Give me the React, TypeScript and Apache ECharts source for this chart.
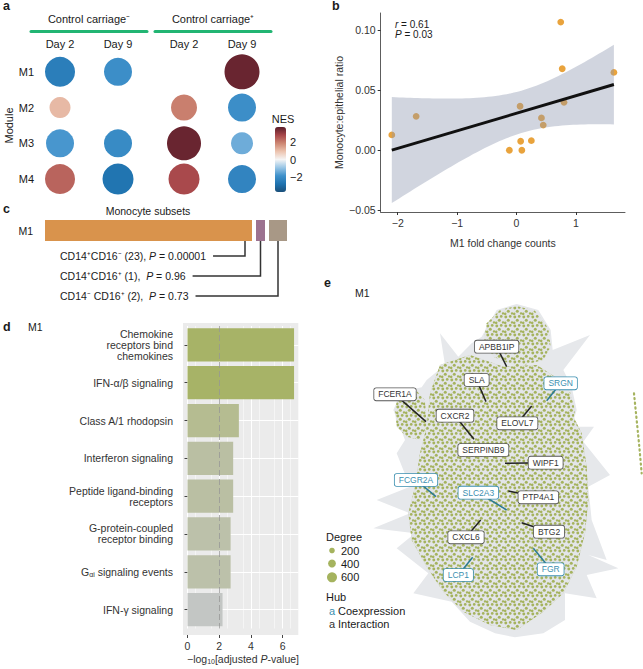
import React, { useEffect, useRef } from 'react';
import * as echarts from 'echarts';

const FONT = "'Liberation Sans', Arial, Helvetica, sans-serif";
const TXT = '#1a1a1a';

// ---------- Panel a : NES dot plot ----------
const aDays = ['Day 2', 'Day 9'];
const aModules = ['M1', 'M2', 'M3', 'M4'];
const aGroups = ['Control carriage\u207B', 'Control carriage\u207A'];
const negDay2NES = [-2.5, 1.1, -1.8, 2.4];
const negDay9NES = [-2.0, null, -2.1, -2.8];
const posDay2NES = [null, 2.0, 3.6, 2.8];
const posDay9NES = [3.6, -2.0, -1.4, -2.3];
const negDay2Sig = [3.0, 2.1, 2.8, 3.0];
const negDay9Sig = [2.8, null, 2.8, 3.1];
const posDay2Sig = [null, 2.6, 3.4, 3.1];
const posDay9Sig = [3.5, 2.8, 2.2, 2.8];
const nesTicks = [-2, 0, 2];
const nesRange = [-3.8, 3.8];
const nesColors = ['#1a4f7a', '#1f73b0', '#3f91cb', '#98c5e5', '#f5f5f5', '#ecc3ae', '#cd8672', '#a7464a', '#591c29'];

// ---------- Panel b : correlation ----------
const m1FoldChange = [-2.10, -1.69, -0.12, 0.06, 0.07, 0.09, 0.25, 0.42, 0.45, 0.745, 0.77, 0.80, 1.64];
const monoEpiRatio = [0.0128, 0.0283, 0.0, 0.0367, 0.0075, 0.0, 0.008, 0.027, 0.021, 0.107, 0.068, 0.040, 0.065];
const bXTicks = [-2, -1, 0, 1];
const bYTicks = [-0.05, 0, 0.05, 0.1];
const corrR = '0.61';
const corrP = '0.03';
const tCrit95df11 = 2.201;

// ---------- Panel c : monocyte subsets ----------
const subsetNames = ['CD14\u207ACD16\u207B', 'CD14\u207ACD16\u207A', 'CD14\u207B CD16\u207A'];
const subsetCounts = [23, 1, 2];
const subsetP = ['0.00001', '0.96', '0.73'];
const subsetSep = [' ', '  ', '  '];
const subsetColors = ['#d9934c', '#9c7290', '#a89886'];

// ---------- Panel d : pathway enrichment ----------
const pathways = [
  'Chemokine\nreceptors bind\nchemokines',
  'IFN-\u03B1/\u03B2 signaling',
  'Class A/1 rhodopsin',
  'Interferon signaling',
  'Peptide ligand-binding\nreceptors',
  'G-protein-coupled\nreceptor binding',
  'G\u03B1i signaling events',
  'IFN-\u03B3 signaling',
];
const negLog10AdjP = [6.72, 6.72, 3.24, 2.88, 2.88, 2.72, 2.72, 2.21];
const dXTicks = [0, 2, 4, 6];
const dRowIdx = [0, 1, 2, 3, 4, 5, 6, 7];
const pThreshold = 2;
const barColors = ['#c3c6c4', '#b4bb8c', '#afb87d', '#abb672', '#a7b367'];

// ---------- Panel e : network (layout coordinates) ----------
const hubNames = ['APBB1IP', 'SLA', 'SRGN', 'FCER1A', 'CXCR2', 'ELOVL7', 'SERPINB9', 'WIPF1', 'FCGR2A', 'SLC2A3', 'PTP4A1', 'CXCL6', 'BTG2', 'LCP1', 'FGR'];
const hubKind = ['int', 'int', 'co', 'int', 'int', 'int', 'int', 'int', 'co', 'co', 'int', 'int', 'int', 'co', 'co'];
const hubNodeX = [530, 468, 650, 288, 432, 605, 460, 525, 318, 530, 535, 452, 575, 428, 610];
const hubNodeY = [200, 305, 302, 365, 418, 318, 450, 490, 590, 630, 573, 660, 668, 772, 745];
const hubLabelX = [500, 440, 692, 195, 375, 562, 460, 647, 258, 445, 625, 408, 657, 385, 662];
const hubLabelY = [140, 240, 250, 283, 347, 370, 450, 488, 540, 578, 592, 712, 695, 825, 808];
const netHull = [[455, 110], [500, 30], [560, 12], [625, 30], [662, 90], [668, 150], [780, 105], [700, 210], [725, 260], [740, 330], [725, 380], [792, 380], [760, 425], [840, 525], [775, 560], [785, 660], [830, 780], [775, 765], [865, 805], [770, 825], [800, 895], [705, 880], [705, 960], [640, 1000], [555, 1012], [495, 1000], [420, 965], [365, 905], [250, 880], [295, 820], [200, 745], [255, 700], [130, 685], [240, 640], [140, 600], [240, 560], [200, 460], [225, 420], [190, 330], [215, 275], [275, 262], [290, 240], [345, 195], [330, 100], [385, 170], [425, 130]];
const netCore = [[330, 195], [420, 165], [520, 200], [620, 195], [690, 240], [715, 320], [755, 400], [770, 500], [775, 600], [765, 700], [740, 800], [700, 880], [640, 935], [560, 990], [480, 975], [400, 935], [340, 875], [290, 800], [245, 720], [235, 640], [255, 560], [270, 460], [290, 380], [300, 280]];
const netDome = [[460, 130], [470, 70], [510, 30], [560, 18], [615, 32], [655, 85], [662, 140], [640, 180], [560, 200], [490, 170]];
const netLobeL = [[195, 330], [205, 280], [250, 262], [285, 300], [290, 380], [270, 420], [230, 410], [200, 380]];
const netLobeR = [[660, 280], [690, 255], [720, 275], [735, 330], [725, 390], [695, 400], [665, 360]];
const netChain = [[912, 280], [920, 360], [928, 440], [935, 520]];
const degreeLevels = [200, 400, 600];

const GREEN_LINE = '#22b573';
const NODE_GREEN = '#a5b35e';
const CO_BLUE = '#3b8fb0';

const minus = (s: string) => s.replace('-', '\u2212');

function regressionBand() {
  const n = m1FoldChange.length;
  const xb = m1FoldChange.reduce((a, b) => a + b, 0) / n;
  const yb = monoEpiRatio.reduce((a, b) => a + b, 0) / n;
  let sxx = 0, sxy = 0;
  for (let i = 0; i < n; i++) {
    sxx += (m1FoldChange[i] - xb) ** 2;
    sxy += (m1FoldChange[i] - xb) * (monoEpiRatio[i] - yb);
  }
  const slope = sxy / sxx;
  const icpt = yb - slope * xb;
  let sse = 0;
  for (let i = 0; i < n; i++) sse += (monoEpiRatio[i] - icpt - slope * m1FoldChange[i]) ** 2;
  const s = Math.sqrt(sse / (n - 2));
  const xmin = Math.min(...m1FoldChange), xmax = Math.max(...m1FoldChange);
  const upper: number[][] = [], lower: number[][] = [];
  const steps = 60;
  for (let k = 0; k <= steps; k++) {
    const x = xmin + ((xmax - xmin) * k) / steps;
    const se = s * Math.sqrt(1 / n + (x - xb) ** 2 / sxx);
    const yh = icpt + slope * x;
    upper.push([x, yh + tCrit95df11 * se]);
    lower.push([x, yh - tCrit95df11 * se]);
  }
  return { upper, lower, fit: [[xmin, icpt + slope * xmin], [xmax, icpt + slope * xmax]] };
}

function dotData(d2: (number | null)[], d9: (number | null)[], s2: (number | null)[], s9: (number | null)[]) {
  const out: number[][] = [];
  [d2, d9].forEach((arr, d) =>
    arr.forEach((v, r) => {
      if (v != null) out.push([d, r, v, (d === 0 ? s2 : s9)[r] as number]);
    })
  );
  return out;
}

function txt(x: number, y: number, text: string, o: any = {}) {
  return {
    type: 'text',
    x,
    y,
    z: 10,
    style: {
      text,
      fontSize: o.size || 10.5,
      fontFamily: FONT,
      fontWeight: o.weight || 'normal',
      fill: o.color || TXT,
      align: o.align || 'left',
      textAlign: o.align || 'left',
      verticalAlign: 'middle',
      textVerticalAlign: 'middle',
      rich: o.rich,
    },
  };
}

function buildOption() {
  const band = regressionBand();

  const ctx = document.createElement('canvas').getContext('2d')!;
  ctx.font = `10.5px ${FONT}`;
  const subsetText = subsetNames.map((nm, i) => `${nm} (${subsetCounts[i]}),${subsetSep[i]}P = ${subsetP[i]}`);
  const subsetW = subsetText.map((t) => ctx.measureText(t).width);
  const cum: number[] = [];
  subsetCounts.reduce((acc, c) => { cum.push(acc); return acc + c; }, 0);

  const dotSvg =
    "<svg xmlns='http://www.w3.org/2000/svg' width='9' height='9'>" +
    "<rect width='9' height='9' fill='#e3e5e8'/>" +
    `<circle cx='1.8' cy='2.0' r='1.45' fill='${NODE_GREEN}'/>` +
    `<circle cx='6.2' cy='1.4' r='1.35' fill='${NODE_GREEN}'/>` +
    `<circle cx='4.3' cy='5.2' r='1.5' fill='${NODE_GREEN}'/>` +
    `<circle cx='8.0' cy='7.4' r='1.2' fill='${NODE_GREEN}'/>` +
    `<circle cx='1.2' cy='7.8' r='1.3' fill='${NODE_GREEN}'/></svg>`;
  const dotPattern = {
    image: 'data:image/svg+xml;charset=utf-8,' + encodeURIComponent(dotSvg),
    repeat: 'repeat',
    imageWidth: 9,
    imageHeight: 9,
  };

  const nameStyle = { fontSize: 11, color: TXT, fontFamily: FONT };
  const lab11 = { fontSize: 11, color: TXT, fontFamily: FONT };
  const lab105 = { fontSize: 10.5, color: '#333', fontFamily: FONT };
  const richRP = {
    i: { fontStyle: 'italic', fontSize: 10, fontFamily: FONT, color: TXT, lineHeight: 10 },
    n: { fontSize: 10, fontFamily: FONT, color: TXT, lineHeight: 10 },
  };

  const headerAxis = (gi: number, name: string) => ({
    gridIndex: gi, type: 'category', data: aDays, position: 'top', offset: 23,
    axisLine: { show: true, lineStyle: { color: GREEN_LINE, width: 3 } },
    axisTick: { show: false }, axisLabel: { show: false }, splitLine: { show: false },
    name, nameLocation: 'middle', nameGap: 7, nameTextStyle: nameStyle,
  });
  const dayAxis = (gi: number) => ({
    gridIndex: gi, type: 'category', data: aDays, position: 'top',
    axisLine: { show: false }, axisTick: { show: false }, splitLine: { show: false },
    axisLabel: { ...lab11, margin: 5 },
  });

  const graphics: any[] = [
    // panel letters
    txt(3, 6, 'a', { size: 12.5, weight: 'bold' }),
    txt(332, 6, 'b', { size: 12.5, weight: 'bold' }),
    txt(3, 209, 'c', { size: 12.5, weight: 'bold' }),
    txt(3, 327, 'd', { size: 12.5, weight: 'bold' }),
    txt(324, 283, 'e', { size: 12.5, weight: 'bold' }),
    // panel a legend title
    txt(283, 119, 'NES', { size: 11, align: 'center' }),
    // panel b stats (two lines in one block)
    txt(395, 29, `{i|r}{n| = ${corrR}}\n{i|P}{n| = ${corrP}}`, { rich: richRP }),
    // panel c
    txt(148, 211, 'Monocyte subsets', { align: 'center' }),
    // panel d
    txt(28, 327, 'M1'),
    { type: 'rect', z: -10, shape: { x: 183, y: 323, width: 115.3, height: 312 }, style: { fill: '#ebebeb' } },
    // panel e
    txt(355, 293, 'M1'),
    txt(326, 537, 'Degree', { size: 11 }),
    txt(326, 597, 'Hub', { size: 11 }),
    txt(329, 611, 'a', { size: 11, color: CO_BLUE }),
    txt(338, 611, 'Coexpression', { size: 11 }),
    txt(329, 624, 'a', { size: 11, color: '#333' }),
    txt(338, 624, 'Interaction', { size: 11 }),
  ];
  degreeLevels.forEach((d, i) => {
    const cy = [550.5, 563.5, 577.3][i];
    graphics.push({ type: 'circle', z: 10, shape: { cx: 332, cy, r: 1.7 + 0.0055 * d }, style: { fill: NODE_GREEN } });
    graphics.push(txt(341, cy, String(d), { size: 11 }));
  });

  const hubData = hubNames.map((_, i) => [hubNodeX[i], hubNodeY[i], hubLabelX[i], hubLabelY[i]]);

  return {
    animation: false,
    textStyle: { fontFamily: FONT },
    grid: [
      { left: 31, top: 54, width: 116, height: 143, outerBoundsMode: 'none' },
      { left: 155, top: 54, width: 116, height: 143, outerBoundsMode: 'none' },
      { left: 275, top: 127, width: 11, height: 65, outerBoundsMode: 'none' },
      { left: 380.7, top: 13, width: 244.3, height: 199, outerBoundsMode: 'none' },
      { left: 45, top: 220, width: 234, height: 21, outerBoundsMode: 'none' },
      { left: 187.5, top: 326, width: 111, height: 302.5, outerBoundsMode: 'none' },
      { left: 330, top: 300, width: 313, height: 369, outerBoundsMode: 'none' },
    ],
    xAxis: [
      dayAxis(0),
      headerAxis(0, aGroups[0]),
      dayAxis(1),
      headerAxis(1, aGroups[1]),
      { gridIndex: 2, type: 'value', min: 0, max: 1, show: false },
      {
        gridIndex: 3, type: 'value', min: -2.287, max: 1.827,
        axisLine: { show: true, onZero: false, lineStyle: { color: '#333', width: 0.8 } },
        axisTick: { show: true, length: 3, lineStyle: { color: '#333' }, customValues: bXTicks },
        axisLabel: { ...lab105, margin: 5, customValues: bXTicks, formatter: (v: number) => minus(String(v)) },
        splitLine: { show: false },
        name: 'M1 fold change counts', nameLocation: 'middle', nameGap: 25, nameTextStyle: { fontSize: 10.5, color: '#333' },
      },
      { gridIndex: 4, type: 'value', min: 0, max: 26, show: false },
      {
        gridIndex: 5, type: 'value', min: 0, max: 7, offset: 6.5,
        axisLine: { show: false, onZero: false },
        axisTick: { show: true, length: 3, lineStyle: { color: '#444' }, customValues: dXTicks },
        axisLabel: { ...lab105, margin: 5, customValues: dXTicks },
        splitLine: { show: true, lineStyle: { color: '#ffffff', width: 1 } },
        minorTick: { show: false, splitNumber: 2 },
        minorSplitLine: { show: true, lineStyle: { color: '#ffffff', width: 0.5 } },
        name: '{t|\u2212log}{s|10}{t|[adjusted }{i|P}{t|-value]}',
        nameLocation: 'middle', nameGap: 17,
        nameTextStyle: {
          rich: {
            t: { fontSize: 10.5, color: '#333', fontFamily: FONT },
            i: { fontSize: 10.5, color: '#333', fontFamily: FONT, fontStyle: 'italic' },
            s: { fontSize: 7, color: '#333', fontFamily: FONT, padding: [6, 0, 0, 0] },
          },
        },
      },
      { gridIndex: 6, type: 'value', min: 0, max: 939, show: false },
    ],
    yAxis: [
      {
        gridIndex: 0, type: 'category', data: aModules, inverse: true,
        axisLine: { show: false }, axisTick: { show: false }, splitLine: { show: false },
        axisLabel: { ...lab11, margin: -3 },
        name: 'Module', nameLocation: 'middle', nameRotate: 90, nameGap: 16, nameTextStyle: nameStyle,
      },
      { gridIndex: 1, type: 'category', data: aModules, inverse: true, show: false },
      {
        gridIndex: 2, type: 'value', min: nesRange[0], max: nesRange[1], position: 'right', z: 10,
        axisLine: { show: false }, splitLine: { show: false },
        axisTick: { show: true, inside: true, length: 3, lineStyle: { color: '#ffffff', width: 1 }, customValues: nesTicks },
        axisLabel: { ...lab11, margin: 4, customValues: nesTicks, formatter: (v: number) => minus(String(v)) },
      },
      {
        gridIndex: 3, type: 'value', min: -0.0516, max: 0.1146,
        axisLine: { show: true, onZero: false, lineStyle: { color: '#333', width: 0.8 } },
        axisTick: { show: true, length: 3, lineStyle: { color: '#333' }, customValues: bYTicks },
        axisLabel: { ...lab105, margin: 5, customValues: bYTicks, formatter: (v: number) => minus(v.toFixed(2)) },
        splitLine: { show: false },
        name: 'Monocyte:epithelial ratio', nameLocation: 'middle', nameRotate: 90, nameGap: 36,
        nameTextStyle: { fontSize: 10.5, color: '#333' },
      },
      {
        gridIndex: 4, type: 'category', data: ['M1'],
        axisLine: { show: false }, axisTick: { show: false }, splitLine: { show: false },
        axisLabel: { ...lab105, color: TXT, margin: 12 },
      },
      {
        gridIndex: 5, type: 'category', data: pathways, inverse: true, offset: 4.5,
        axisLine: { show: false }, splitLine: { show: false },
        axisTick: { show: true, length: 3, alignWithLabel: true, lineStyle: { color: '#444' } },
        axisLabel: {
          ...lab105, margin: 10, lineHeight: 11,
          formatter: (v: string) => (v.indexOf('G\u03B1i') === 0 ? '{g|G}{s|\u03B1i}{g|' + v.slice(3) + '}' : v),
          rich: {
            g: { fontSize: 10.5, color: '#333', fontFamily: FONT },
            s: { fontSize: 7, color: '#333', fontFamily: FONT, padding: [6, 0, 0, 0] },
          },
        },
      },
      {
        gridIndex: 5, type: 'value', min: -0.5, max: 7.5, inverse: true,
        axisLine: { show: false }, axisLabel: { show: false },
        axisTick: { show: false, customValues: dRowIdx },
        splitLine: { show: true, lineStyle: { color: '#ffffff', width: 1 } },
      },
      { gridIndex: 6, type: 'value', min: 0, max: 1107, inverse: true, show: false },
    ],
    visualMap: [
      {
        type: 'continuous', seriesIndex: [0, 1], dimension: 2,
        min: nesRange[0], max: nesRange[1], inRange: { color: nesColors },
        show: true, calculable: false, hoverLink: false, orient: 'vertical',
        left: 275, top: 127, itemWidth: 11, itemHeight: 65, padding: 0,
      },
      {
        type: 'continuous', seriesIndex: 6, dimension: 0, min: 2.2, max: 6.75,
        inRange: { color: barColors }, show: false,
      },
    ],
    graphic: { elements: graphics },
    series: [
      {
        type: 'scatter', xAxisIndex: 0, yAxisIndex: 0, silent: true,
        data: dotData(negDay2NES, negDay9NES, negDay2Sig, negDay9Sig),
        symbolSize: (v: number[]) => v[3] * 10,
        itemStyle: { opacity: 1 },
      },
      {
        type: 'scatter', xAxisIndex: 2, yAxisIndex: 1, silent: true,
        data: dotData(posDay2NES, posDay9NES, posDay2Sig, posDay9Sig),
        symbolSize: (v: number[]) => v[3] * 10,
        itemStyle: { opacity: 1 },
      },
      {
        type: 'scatter', xAxisIndex: 5, yAxisIndex: 3, silent: true, z: 2,
        data: m1FoldChange.map((x, i) => [x, monoEpiRatio[i]]),
        symbolSize: 6.8, itemStyle: { color: '#e9a33c', opacity: 1 },
      },
      {
        type: 'custom', xAxisIndex: 5, yAxisIndex: 3, silent: true, z: 3,
        data: [[0, 0]],
        renderItem: (_p: any, api: any) => {
          const pts = band.upper.map((p) => api.coord(p)).concat(band.lower.slice().reverse().map((p) => api.coord(p)));
          return { type: 'polygon', shape: { points: pts }, style: { fill: 'rgba(140,150,175,0.4)' } };
        },
      },
      {
        type: 'line', xAxisIndex: 5, yAxisIndex: 3, silent: true, z: 4,
        data: band.fit, showSymbol: false, symbol: 'none',
        lineStyle: { color: '#111', width: 3 },
      },
      {
        type: 'custom', xAxisIndex: 6, yAxisIndex: 4, silent: true,
        data: subsetCounts.map((c, i) => [cum[i], c, i]),
        renderItem: (params: any, api: any) => {
          const i = params.dataIndex;
          const start = api.value(0);
          const count = api.value(1);
          const base = api.coord([start, 0]);
          const w = api.size([count, 0])[0];
          const h = api.size([0, 1])[1];
          const x0 = base[0] + i * 4;
          const top = base[1] - h / 2;
          const bottom = base[1] + h / 2;
          const xl = w > 30 ? x0 + w - 7 : x0 + w / 2;
          const ty = bottom + 15 + i * 20;
          const tx = 60;
          const lx = tx + subsetW[i] + 7;
          const st = { fontSize: 10.5, fontFamily: FONT, fill: TXT };
          return {
            type: 'group',
            children: [
              { type: 'rect', shape: { x: x0, y: top, width: w, height: h }, style: { fill: subsetColors[i] } },
              { type: 'polyline', shape: { points: [[lx, ty], [xl, ty], [xl, bottom]] }, style: { stroke: '#333', lineWidth: 1.5, fill: null } },
              {
                type: 'text', x: tx, y: ty,
                style: {
                  text: `{n|${subsetNames[i]} (${subsetCounts[i]}),${subsetSep[i]}}{i|P}{n| = ${subsetP[i]}}`,
                  verticalAlign: 'middle', align: 'left',
                  rich: { n: { ...st, color: TXT }, i: { ...st, color: TXT, fontStyle: 'italic' } },
                  fontSize: 10.5, fontFamily: FONT, fill: TXT,
                },
              },
            ],
          };
        },
      },
      {
        type: 'bar', xAxisIndex: 7, yAxisIndex: 5, silent: true,
        data: negLog10AdjP, barWidth: '88%',
        markLine: {
          silent: true, symbol: 'none', label: { show: false },
          lineStyle: { color: 'rgba(150,150,150,0.75)', type: [6, 3], width: 1 },
          data: [{ xAxis: pThreshold }],
        },
      },
      {
        type: 'custom', xAxisIndex: 8, yAxisIndex: 7, silent: true, z: 1,
        data: [[0, 0]],
        renderItem: (_p: any, api: any) => {
          const P = (arr: number[][]) => arr.map((p) => api.coord(p));
          return {
            type: 'group',
            children: [
              { type: 'polygon', shape: { points: P(netHull) }, style: { fill: '#e6e8eb' } },
              { type: 'polygon', shape: { points: P(netCore) }, style: { fill: '#c9cfae' } },
              { type: 'polygon', shape: { points: P(netCore) }, style: { fill: dotPattern } },
              { type: 'polygon', shape: { points: P(netDome) }, style: { fill: dotPattern } },
              { type: 'polygon', shape: { points: P(netLobeL) }, style: { fill: dotPattern } },
              { type: 'polygon', shape: { points: P(netLobeR) }, style: { fill: dotPattern } },
              { type: 'polyline', shape: { points: P(netChain) }, style: { stroke: NODE_GREEN, lineWidth: 2.2, lineDash: [1.2, 3.5], lineCap: 'round', fill: null } },
            ],
          };
        },
      },
      {
        type: 'custom', xAxisIndex: 8, yAxisIndex: 7, silent: true, z: 5,
        data: hubData,
        renderItem: (params: any, api: any) => {
          const i = params.dataIndex;
          const co = hubKind[i] === 'co';
          const p1 = api.coord([api.value(0), api.value(1)]);
          const p2 = api.coord([api.value(2), api.value(3)]);
          return {
            type: 'group',
            children: [
              { type: 'line', shape: { x1: p1[0], y1: p1[1], x2: p2[0], y2: p2[1] }, style: { stroke: co ? '#2b7a93' : '#222', lineWidth: 1.5 } },
              {
                type: 'text', x: p2[0], y: p2[1],
                style: {
                  text: hubNames[i], fontSize: 8.5, fontFamily: FONT,
                  fill: co ? CO_BLUE : '#333', align: 'center', verticalAlign: 'middle',
                  backgroundColor: '#ffffff', borderColor: co ? CO_BLUE : '#555', borderWidth: 0.8,
                  borderRadius: 2, padding: [2, 4, 1, 4],
                },
              },
            ],
          };
        },
      },
    ],
  };
}

export default function App() {
  const ref = useRef<HTMLDivElement>(null);
  useEffect(() => {
    const chart = echarts.init(ref.current!, null, { renderer: 'svg' });
    chart.setOption(buildOption() as any);
    return () => chart.dispose();
  }, []);
  return (
    <div
      ref={ref}
      style={{ position: 'absolute', left: 0, top: 0, width: 643, height: 669, background: '#ffffff' }}
    />
  );
}
